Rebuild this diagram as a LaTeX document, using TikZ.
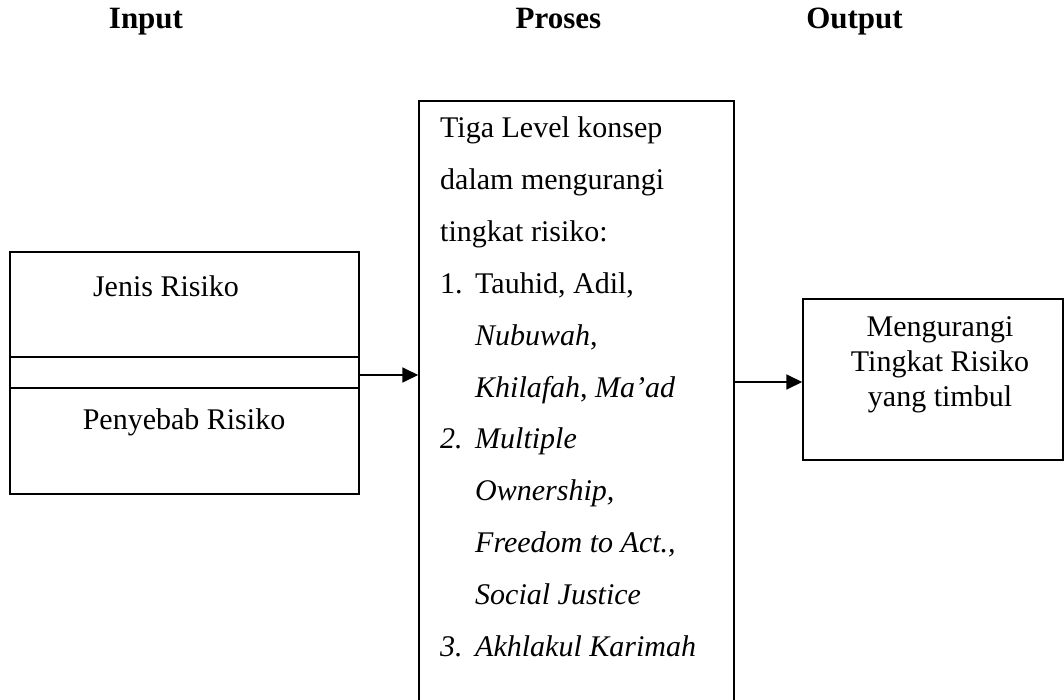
\documentclass[tikz,border=0pt]{standalone}
\usepackage{fontspec}
\setmainfont{Liberation Serif}
\usetikzlibrary{arrows.meta}
\begin{document}
\begin{tikzpicture}[x=1pt,y=-1pt,
  box/.style={draw, line width=1.5pt, inner sep=0pt, fill=none},
  arr/.style={-{Triangle[length=16pt,width=15pt]}, line width=1.8pt},
  body/.style={font=\fontsize{30}{35}\selectfont, inner sep=0pt, anchor=base},
  lft/.style={body, anchor=base west},
  head/.style={font=\fontsize{31}{36}\selectfont\bfseries, inner sep=0pt, anchor=base}]
\useasboundingbox (0,0) rectangle (1064,700);
\clip (0,0) rectangle (1064,700);
\fill[white] (0,0) rectangle (1064,700);

% headers
\node[head] (hin) at (146,29) {Input};
\node[head] (hpr) at (558.5,29) {Proses};
\node[head] (hout) at (854.5,29) {Output};

% left box
\node[box, minimum width=349pt, minimum height=242pt] (lbox) at (184.5,373) {};
\draw[line width=1.2pt] (lbox.west |- 0,357) -- (lbox.east |- 0,357);
\draw[line width=1.2pt] (lbox.west |- 0,388) -- (lbox.east |- 0,388);
\node[body] (jenis) at (166,297) {Jenis Risiko};
\node[body] (penyebab) at (184,429) {Penyebab Risiko};

% middle box (bottom runs past the picture)
\node[box, minimum width=315pt, minimum height=680pt] (mbox) at (576.5,441) {};
\node[lft] (m0) at (440,138) {Tiga Level konsep};
\node[lft] (m1) at (440,189.8) {dalam mengurangi};
\node[lft] (m2) at (440,241.6) {tingkat risiko:};
\node[lft] (n1) at (440,293.4) {1.};
\node[lft] (m3) at (475,293.4) {Tauhid, Adil,};
\node[lft] (m4) at (475,345.2) {\textit{Nubuwah},};
\node[lft] (m5) at (475,397) {\textit{Khilafah}, \textit{Ma’ad}};
\node[lft] (n2) at (440,448.8) {\textit{2.}};
\node[lft] (m6) at (475,448.8) {\textit{Multiple}};
\node[lft] (m7) at (475,500.6) {\textit{Ownership,}};
\node[lft] (m8) at (475,552.4) {\textit{Freedom to Act.,}};
\node[lft] (m9) at (475,604.2) {\textit{Social Justice}};
\node[lft] (n3) at (440,656) {\textit{3.}};
\node[lft] (m10) at (475,656) {\textit{Akhlakul Karimah}};

% right box
\node[box, minimum width=260pt, minimum height=161pt] (rbox) at (933,379.5) {};
\node[body] (r1) at (940,336) {Mengurangi};
\node[body] (r2) at (940,371) {Tingkat Risiko};
\node[body] (r3) at (940,406) {yang timbul};

% connectors
\draw[arr] (lbox.east |- 0,375) -- (mbox.west |- 0,375);
\draw[arr] (mbox.east |- 0,382) -- (rbox.west |- 0,382);
\end{tikzpicture}
\end{document}
